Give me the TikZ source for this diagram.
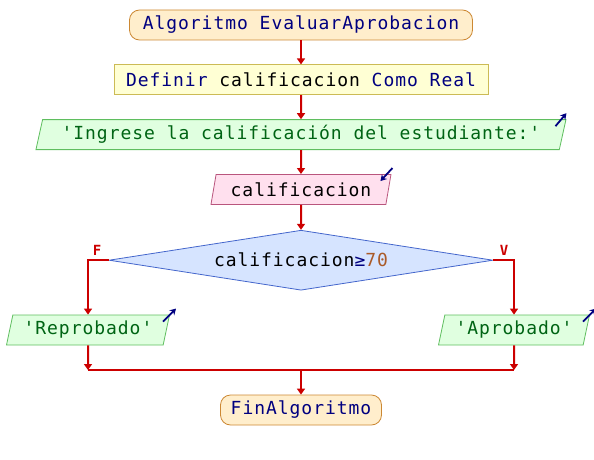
\documentclass[tikz,border=0pt]{standalone}
\usepackage{fontspec}
\setmonofont[LetterSpace=5.3]{DejaVu Sans Mono}
\usepackage{tikz}
\usetikzlibrary{positioning, arrows.meta, shapes.geometric}
\definecolor{termfill}{RGB}{255,238,204}
\definecolor{termdraw}{RGB}{204,136,51}
\definecolor{deffill}{RGB}{255,255,212}
\definecolor{defdraw}{RGB}{204,187,85}
\definecolor{outfill}{RGB}{224,255,224}
\definecolor{outdraw}{RGB}{95,190,95}
\definecolor{infill}{RGB}{255,224,238}
\definecolor{indraw}{RGB}{185,85,125}
\definecolor{condfill}{RGB}{214,228,255}
\definecolor{conddraw}{RGB}{68,102,204}
\definecolor{flowred}{RGB}{204,0,0}
\definecolor{kwblue}{RGB}{0,0,128}
\definecolor{strgreen}{RGB}{0,100,20}
\definecolor{numbrown}{RGB}{170,90,40}

\begin{document}
\begin{tikzpicture}[
  x=1pt, y=1pt,
  node distance=24pt,
  base/.style={draw, line width=0.8pt, align=center, inner sep=0pt, minimum height=30pt, font=\ttfamily\fontsize{18}{22}\selectfont},
  term/.style={base, rounded corners=10pt, fill=termfill, draw=termdraw},
  defbox/.style={base, fill=deffill, draw=defdraw},
  io/.style={base, trapezium, trapezium left angle=70, trapezium right angle=110, trapezium stretches body=true},
  outp/.style={io, fill=outfill, draw=outdraw, text=strgreen},
  inp/.style={io, fill=infill, draw=indraw},
  cond/.style={base, diamond, shape aspect=6.4, minimum width=384pt, minimum height=60pt, fill=condfill, draw=conddraw},
  flow/.style={draw=flowred, line width=2pt, -{Triangle[width=8pt, length=6pt]}},
  icon/.style={draw=kwblue, line width=1.8pt, -{Stealth[length=6pt, width=7pt]}},
  lbl/.style={text=flowred, font=\ttfamily\bfseries\fontsize{14}{14}\selectfont},
]
\useasboundingbox (0,0) rectangle (594,-460);

\node[term, minimum width=343pt, text=kwblue] (alg) at (301,-25) {Algoritmo EvaluarAprobacion};
\node[defbox, minimum width=374pt, below=of alg] (def) {\textcolor{kwblue}{Definir} calificacion \textcolor{kwblue}{Como Real}};
\node[outp, minimum width=530pt, below=of def] (msg) {'Ingrese la calificación del estudiante:'};
\node[inp, minimum width=180pt, below=of msg] (leer) {calificacion};
\node[cond, below=25pt of leer] (si) {calificacion\textcolor{kwblue}{≥}\textcolor{numbrown}{70}};
\node[outp, minimum width=163pt] (rep) at (88,-330) {'Reprobado'};
\node[outp, minimum width=151pt] (apr) at (514,-330) {'Aprobado'};
\node[term, minimum width=161pt, text=kwblue] (fin) at (301,-410) {FinAlgoritmo};

\node[lbl] (lf) at (97,-250) {F};
\node[lbl] (lv) at (504,-250) {V};

\coordinate (jl) at (88,-370);
\coordinate (jr) at (514,-370);
\coordinate (jm) at (si.center |- jl);

\draw[flow] (alg) -- (def);
\draw[flow] (def) -- (msg);
\draw[flow] (msg) -- (leer);
\draw[flow] (leer) -- (si);
\draw[flow] (si.west) -| (rep.north);
\draw[flow] (si.east) -| (apr.north);
\draw[flow] (rep.south) -- (jl);
\draw[flow] (apr.south) -- (jr);
\draw[draw=flowred, line width=2pt] (jl) -- (jr);
\draw[flow] (jm) -- (fin);

% little in/out marks
\draw[icon] ([shift={(-11,-7)}]msg.top right corner) -- ([shift={(0,6)}]msg.top right corner);
\draw[icon] ([shift={(1,6)}]leer.top right corner) -- ([shift={(-11,-7)}]leer.top right corner);
\draw[icon] ([shift={(-7,-7)}]rep.top right corner) -- ([shift={(6,6)}]rep.top right corner);
\draw[icon] ([shift={(-7,-7)}]apr.top right corner) -- ([shift={(6,6)}]apr.top right corner);
\end{tikzpicture}
\end{document}
